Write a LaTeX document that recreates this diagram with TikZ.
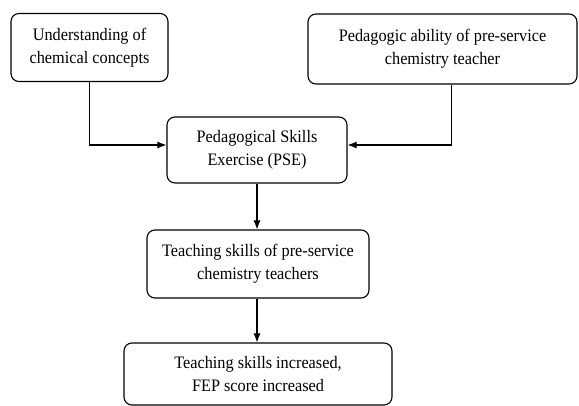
\documentclass[tikz,border=0pt]{standalone}
\usepackage{fontspec}
\setmainfont[FakeStretch=0.93]{Liberation Serif}
\usetikzlibrary{positioning}
\usetikzlibrary{arrows.meta}
\tikzset{>={Latex[length=9pt, width=7pt]}}
\tikzset{box/.style={draw, rounded corners=8pt, align=center, inner sep=0pt, font=\fontsize{17.5}{23}\selectfont}}

\begin{document}
\begin{tikzpicture}[x=1pt, y=-1pt, line width=1.1pt]
    \useasboundingbox(0, 0)rectangle(579, 406);
    \node[box, minimum width=157pt, minimum height=68pt](concept)at(89.5, 47.5){Understanding of\\chemical concepts};
    \node[box, minimum width=269pt, minimum height=70pt](ability)at(442.5, 49){Pedagogic ability of pre-service\\chemistry teacher};
    \node[box, minimum width=180pt, minimum height=66pt](pse)at(257, 150){Pedagogical Skills\\Exercise (PSE)};
    \node[box, minimum width=222pt, minimum height=68pt](teach)at(258, 264){Teaching skills of pre-service\\chemistry teachers};
    \node[box, minimum width=268pt, minimum height=62pt](result)at(258, 374){Teaching skills increased,\\FEP score increased};
    \draw[->](concept.south)|-([yshift=5pt]pse.west);
    \draw[->]([xshift=9pt]ability.south)|-([yshift=5pt]pse.east);
    \draw[->](pse.south)--(pse.south |- teach.north);
    \draw[->](pse.south |- teach.south)--(pse.south |- result.north);
\end{tikzpicture}
\end{document}
